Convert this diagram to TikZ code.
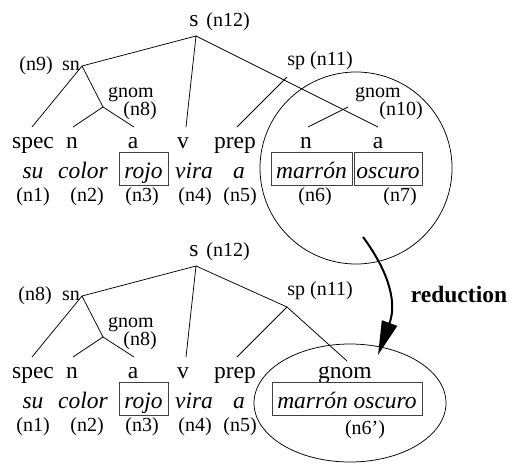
\documentclass[tikz,border=0pt]{standalone}
\usepackage{fontspec}
\setmainfont{Liberation Serif}
\usetikzlibrary{arrows.meta}

\begin{document}
\begin{tikzpicture}[x=1pt,y=-1pt,
  every node/.style={inner sep=0pt, anchor=base},
  cat/.style={font=\fontsize{23.5}{26}\selectfont},
  wrd/.style={font=\fontsize{23.5}{26}\selectfont\itshape},
  lbl/.style={font=\fontsize{20}{22}\selectfont},
  wbox/.style={wrd, draw=black!75, line width=0.8pt, inner xsep=0pt,
               text height=26pt, text depth=7pt},
  edge/.style={line width=0.75pt},
  zone/.style={line width=0.75pt}]
\useasboundingbox (0,0) rectangle (513,463);

% ---------------- first analysis ----------------
\node[cat] (s1) at (194,26) {s};
\node[lbl] (s1l) at (228,26) {(n12)};
\node[lbl] (sn1l) at (36,70) {(n9)};
\node[lbl] (sn1) at (71,70) {sn};
\node[lbl] (gn1) at (131,97) {gnom};
\node[lbl] (gn1l) at (140,115) {(n8)};
\node[lbl] (sp1) at (320,65) {sp (n11)};
\node[lbl] (gx1) at (378,97) {gnom};
\node[lbl] (gx1l) at (401,115) {(n10)};

\node[cat] (c1a) at (33,148) {spec};
\node[cat] (c1b) at (72,148) {n};
\node[cat] (c1c) at (133,148) {a};
\node[cat] (c1d) at (183,148) {v};
\node[cat] (c1e) at (235,148) {prep};
\node[cat] (c1f) at (306,148) {n};
\node[cat] (c1g) at (378,148) {a};

\node[wrd] (w1a) at (33,178) {su};
\node[wrd] (w1b) at (83,178) {color};
\node[wbox, minimum width=49pt] (w1c) at (143.5,178) {rojo};
\node[wrd] (w1d) at (194,178) {vira};
\node[wrd] (w1e) at (239,178) {a};
\node[wbox, minimum width=81pt] (w1f) at (311.5,178) {marrón};
\node[wbox, minimum width=68pt] (w1g) at (388,178) {oscuro};

\node[lbl] (i1a) at (33,201) {(n1)};
\node[lbl] (i1b) at (87,201) {(n2)};
\node[lbl] (i1c) at (142,201) {(n3)};
\node[lbl] (i1d) at (195,201) {(n4)};
\node[lbl] (i1e) at (240,201) {(n5)};
\node[lbl] (i1f) at (315,201) {(n6)};
\node[lbl] (i1g) at (400,201) {(n7)};

% junctions and branch ends
\coordinate (j1s) at (196,36);
\coordinate (j1sn) at (82,66);
\coordinate (j1gn) at (103,107);
\coordinate (j1sp) at (287,77);
\coordinate (j1gx) at (348,107);
\coordinate (e1a) at (32,127);
\coordinate (e1b) at (73,127);
\coordinate (e1c) at (134,127);
\coordinate (e1d) at (186,127);
\coordinate (e1e) at (237,127);
\coordinate (e1f) at (308,127);
\coordinate (e1g) at (378,127);

\draw[edge] (e1a) -- (j1sn) -- (j1s) -- (e1d);
\draw[edge] (j1s) -- (e1g);
\draw[edge] (j1sn) -- (j1gn) -- (e1b);
\draw[edge] (j1gn) -- (e1c);
\draw[edge] (j1sp) -- (e1e);
\draw[edge] (j1gx) -- (e1f);

\draw[zone] (356,168) circle[radius=96];

% ---------------- reduced analysis ----------------
\node[cat] (s2) at (194,256) {s};
\node[lbl] (s2l) at (228,256) {(n12)};
\node[lbl] (sn2l) at (35,300) {(n8)};
\node[lbl] (sn2) at (71,300) {sn};
\node[lbl] (gn2) at (131,327) {gnom};
\node[lbl] (gn2l) at (140,345) {(n8)};
\node[lbl] (sp2) at (320,295) {sp (n11)};

\node[cat] (c2a) at (33,378) {spec};
\node[cat] (c2b) at (72,378) {n};
\node[cat] (c2c) at (133,378) {a};
\node[cat] (c2d) at (183,378) {v};
\node[cat] (c2e) at (235,378) {prep};
\node[cat] (c2f) at (345,378) {gnom};

\node[wrd] (w2a) at (33,408) {su};
\node[wrd] (w2b) at (83,408) {color};
\node[wbox, minimum width=49pt] (w2c) at (143.5,408) {rojo};
\node[wrd] (w2d) at (194,408) {vira};
\node[wrd] (w2e) at (239,408) {a};
\node[wbox, minimum width=150pt] (w2f) at (347,408) {marrón oscuro};

\node[lbl] (i2a) at (33,431) {(n1)};
\node[lbl] (i2b) at (87,431) {(n2)};
\node[lbl] (i2c) at (142,431) {(n3)};
\node[lbl] (i2d) at (195,431) {(n4)};
\node[lbl] (i2e) at (240,431) {(n5)};
\node[lbl] (i2f) at (365,434) {(n6’)};

\coordinate (j2s) at (196,266);
\coordinate (j2sn) at (82,296);
\coordinate (j2gn) at (103,337);
\coordinate (j2sp) at (287,307);
\coordinate (e2a) at (32,357);
\coordinate (e2b) at (73,357);
\coordinate (e2c) at (134,357);
\coordinate (e2d) at (186,357);
\coordinate (e2e) at (237,357);
\coordinate (e2f) at (347,361);

\draw[edge] (e2a) -- (j2sn) -- (j2s) -- (e2d);
\draw[edge] (j2s) -- (j2sp) -- (e2f);
\draw[edge] (j2sn) -- (j2gn) -- (e2b);
\draw[edge] (j2gn) -- (e2c);
\draw[edge] (j2sp) -- (e2e);

\draw[zone] (350,403) ellipse[x radius=96, y radius=59];

% ---------------- reduction step ----------------
\coordinate (rfrom) at (363,237);
\coordinate (rto) at (378,355);
\draw[line width=2pt, -{Triangle[length=34pt, width=16pt]}]
  (rfrom) .. controls (386,268) and (398,300) .. (rto);
\node[font=\fontsize{23.5}{26}\selectfont\bfseries] (red) at (459,302) {reduction};
\end{tikzpicture}
\end{document}
